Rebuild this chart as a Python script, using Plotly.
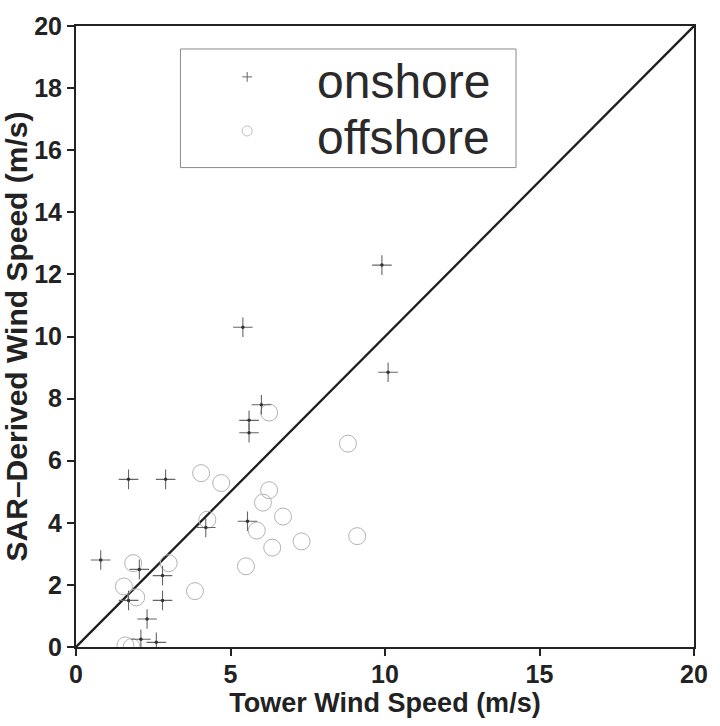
import plotly.graph_objects as go

# Tower vs SAR-derived wind speed (m/s)
onshore_x = [0.8, 1.7, 2.9, 2.05, 2.8, 1.7, 2.8, 2.3, 2.1, 2.6, 4.2, 5.55, 5.6, 5.6, 6.0, 5.4, 9.9, 10.1]
onshore_y = [2.8, 5.4, 5.4, 2.5, 2.3, 1.5, 1.5, 0.9, 0.25, 0.15, 3.85, 4.05, 6.9, 7.3, 7.8, 10.3, 12.3, 8.85]

offshore_x = [6.25, 8.8, 9.1, 4.05, 4.7, 6.25, 6.05, 6.7, 5.85, 6.35, 7.3, 5.5, 3.85,
              1.85, 3.0, 1.55, 1.95, 4.25, 1.6, 1.8]
offshore_y = [7.55, 6.55, 3.57, 5.6, 5.28, 5.05, 4.65, 4.2, 3.75, 3.2, 3.4, 2.6, 1.8,
              2.7, 2.7, 1.95, 1.6, 4.1, 0.05, 0.0]

one_to_one = [0, 20]
x_ticks = [0, 5, 10, 15, 20]
y_ticks = [0, 2, 4, 6, 8, 10, 12, 14, 16, 18, 20]
series_names = ["onshore", "offshore"]

FONT = "Liberation Sans, Arial, Helvetica, sans-serif"

fig = go.Figure()

fig.add_trace(go.Scatter(
    x=one_to_one, y=one_to_one, mode="lines",
    line=dict(color="#1e1e1e", width=2.3), showlegend=False, hoverinfo="skip"))

fig.add_trace(go.Scatter(
    x=offshore_x, y=offshore_y, mode="markers", name=series_names[1],
    marker=dict(symbol="circle-open", size=17, color="#b3b3b3", line=dict(width=1)),
    showlegend=False))

fig.add_trace(go.Scatter(
    x=onshore_x, y=onshore_y, mode="markers", name=series_names[0],
    marker=dict(symbol="cross-thin", size=14, color="#666666", line=dict(width=1.1, color="#666666")),
    showlegend=False))
fig.add_trace(go.Scatter(
    x=onshore_x, y=onshore_y, mode="markers", hoverinfo="skip",
    marker=dict(symbol="circle", size=3.5, color="#333333"), showlegend=False))

# Legend key drawn on an overlay axis spanning the plot area (0..1 in both directions)
fig.add_trace(go.Scatter(
    x=[0.277], y=[0.918], xaxis="x2", yaxis="y2", mode="markers", hoverinfo="skip",
    marker=dict(symbol="cross-thin", size=7, color="#666666", line=dict(width=1, color="#666666")),
    showlegend=False))
fig.add_trace(go.Scatter(
    x=[0.277], y=[0.831], xaxis="x2", yaxis="y2", mode="markers", hoverinfo="skip",
    marker=dict(symbol="circle-open", size=10, color="#c0c0c0", line=dict(width=1)),
    showlegend=False))

fig.add_shape(type="rect", xref="paper", yref="paper",
              x0=0.169, x1=0.712, y0=0.772, y1=0.963,
              line=dict(color="#8a8a8a", width=1), fillcolor="rgba(0,0,0,0)")

for name, ypos in zip(series_names, [0.911, 0.821]):
    fig.add_annotation(text=name, xref="paper", yref="paper", x=0.387, y=ypos,
                       xanchor="left", yanchor="middle", showarrow=False,
                       font=dict(family=FONT, size=48, color="#2a2a2a"))

axis_common = dict(
    showgrid=False, zeroline=False, showline=True, linecolor="#222222", linewidth=2,
    mirror=True, ticks="outside", ticklen=7, tickwidth=2, tickcolor="#222222",
    tickfont=dict(family=FONT, size=25, color="#222222", weight="bold"),
)

fig.update_layout(
    width=720, height=726,
    margin=dict(l=76, r=22, t=20, b=79),
    paper_bgcolor="white", plot_bgcolor="white",
    xaxis=dict(range=[0, 20], tickvals=x_ticks, ticklabelstandoff=-3, **axis_common,
               title=dict(text="Tower Wind Speed (m/s)", standoff=4,
                          font=dict(family=FONT, size=27, color="#222222", weight="bold"))),
    yaxis=dict(range=[0, 20], tickvals=y_ticks, **axis_common,
               title=dict(text="SAR\u2013Derived Wind Speed (m/s)", standoff=0,
                          font=dict(family=FONT, size=30, color="#222222", weight="bold"))),
    xaxis2=dict(range=[0, 1], overlaying="x", visible=False, domain=[0, 1], anchor="y2"),
    yaxis2=dict(range=[0, 1], overlaying="y", visible=False, domain=[0, 1], anchor="x2"),
    showlegend=False,
)

fig.write_html("out.html")
